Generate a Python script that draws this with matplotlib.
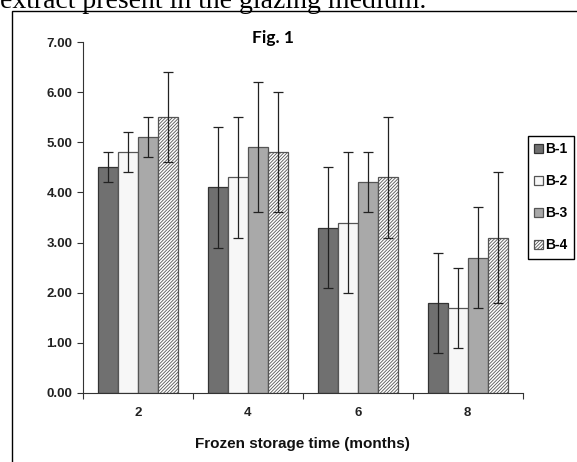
import matplotlib
matplotlib.use("Agg")
import matplotlib.pyplot as plt
import matplotlib.patches as mpatches
import numpy as np

months = ["2", "4", "6", "8"]
seriesNames = ["B-1", "B-2", "B-3", "B-4"]
b1 = [4.5, 4.1, 3.3, 1.8]
b1Err = [0.3, 1.2, 1.2, 1.0]
b2 = [4.8, 4.3, 3.4, 1.7]
b2Err = [0.4, 1.2, 1.4, 0.8]
b3 = [5.1, 4.9, 4.2, 2.7]
b3Err = [0.4, 1.3, 0.6, 1.0]
b4 = [5.5, 4.8, 4.3, 3.1]
b4Err = [0.9, 1.2, 1.2, 1.3]
yTicks = [0, 1, 2, 3, 4, 5, 6, 7]

plt.rcParams["font.family"] = ["Liberation Sans", "DejaVu Sans"]
plt.rcParams["hatch.linewidth"] = 0.6
plt.rcParams["hatch.color"] = "#555555"

fig = plt.figure(figsize=(5.77, 4.62), dpi=100)
ax = fig.add_axes([82.7 / 577, 1 - 392.7 / 462, 440 / 577, 350.4 / 462])

# outer frame of the embedded figure (runs off the right/bottom of the image)
fig.patches.append(mpatches.Rectangle((12 / 577, -0.1), 1.2, 1 - 11 / 462 + 0.1,
                                      transform=fig.transFigure, fill=False,
                                      edgecolor="black", linewidth=1.0))

fig.text(0.0, 1 - 8 / 462, "extract present in the glazing medium.",
         family="Liberation Serif", fontsize=20, va="baseline", ha="left")

barSettings = [
    dict(color="#707070", edgecolor="#333333"),
    dict(color="#f7f7f7", edgecolor="#555555"),
    dict(color="#a9a9a9", edgecolor="#555555"),
    dict(color="white", edgecolor="#555555", hatch="//////////"),
]
errSettings = dict(ecolor="#222222", elinewidth=0.9, capsize=3.6, capthick=0.9)

x = np.arange(len(months)) + 0.5
width = 0.182
handles = []
for i, (vals, errs) in enumerate([(b1, b1Err), (b2, b2Err), (b3, b3Err), (b4, b4Err)]):
    bars = ax.bar(x + (i - 1.5) * width, vals, width, yerr=errs, linewidth=0.9,
                  error_kw=errSettings, **barSettings[i])
    handles.append(bars)

ax.set_xlim(0, 4)
ax.set_ylim(0, 7)
ax.set_yticks(yTicks)
ax.set_yticklabels(["%.2f" % t for t in yTicks], fontsize=9.5, fontweight="bold", color="#222222")
ax.set_xticks([0, 1, 2, 3, 4])
ax.set_xticklabels([])
ax.set_xticks(x, minor=True)
ax.set_xticklabels(months, minor=True, fontsize=9.5, fontweight="bold", color="#222222")
ax.tick_params(axis="x", which="minor", length=0, pad=10)
ax.tick_params(axis="x", which="major", length=4, direction="out", color="#333333")
ax.tick_params(axis="y", length=4, direction="out", color="#333333")
for side in ["top", "right"]:
    ax.spines[side].set_visible(False)
for side in ["left", "bottom"]:
    ax.spines[side].set_color("#333333")

ax.set_xlabel("Frozen storage time (months)", fontsize=11, fontweight="bold",
              color="#111111", labelpad=13)
fig.text(273 / 577, 1 - 38 / 462, "Fig. 1", family=["Lato", "DejaVu Sans"],
         fontsize=12.5, fontweight="bold", ha="center", va="center")

leg = fig.legend(handles, seriesNames, loc="upper left",
                 bbox_to_anchor=(528 / 577, 1 - 136 / 462), borderaxespad=0,
                 fancybox=False, edgecolor="black", framealpha=1,
                 handlelength=0.6, handleheight=0.6, handletextpad=0.2,
                 labelspacing=1.3, borderpad=0.45, prop=dict(weight="bold", size=10))
leg.get_frame().set_linewidth(1.0)

fig.savefig("out.png", dpi=100)
